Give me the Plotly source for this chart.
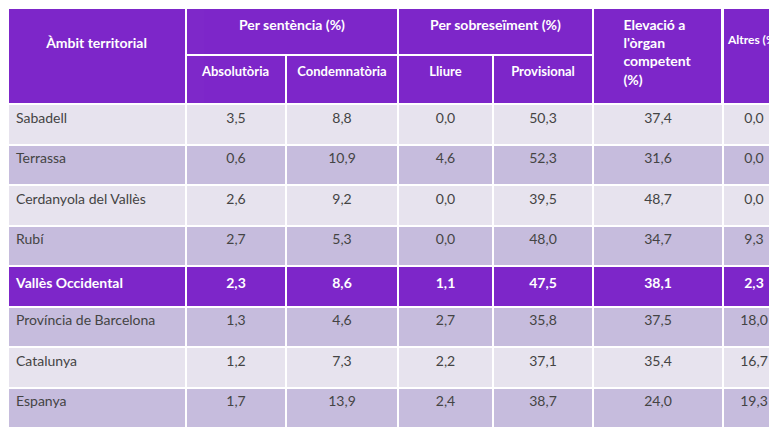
import plotly.graph_objects as go

ambits = ["Sabadell", "Terrassa", "Cerdanyola del Vallès", "Rubí", "Vallès Occidental",
          "Província de Barcelona", "Catalunya", "Espanya"]
absolutoria = ["3,5", "0,6", "2,6", "2,7", "2,3", "1,3", "1,2", "1,7"]
condemnatoria = ["8,8", "10,9", "9,2", "5,3", "8,6", "4,6", "7,3", "13,9"]
lliure = ["0,0", "4,6", "0,0", "0,0", "1,1", "2,7", "2,2", "2,4"]
provisional = ["50,3", "52,3", "39,5", "48,0", "47,5", "35,8", "37,1", "38,7"]
elevacio = ["37,4", "31,6", "48,7", "34,7", "38,1", "37,5", "35,4", "24,0"]
altres = ["0,0", "0,0", "0,0", "9,3", "2,3", "18,0", "16,7", "19,3"]
highlight = "Vallès Occidental"

PURPLE = "#7D26C9"
LIGHT = "#E7E3EE"
DARK = "#C6BCDD"
W, H = 777, 427
widths = [178, 100, 112, 95, 100, 130, 62]
FONT = "Lato, Open Sans, sans-serif"

fills, colors, names = [], [], []
for i, a in enumerate(ambits):
    if a == highlight:
        fills.append(PURPLE); colors.append("white"); names.append("<b>%s</b>" % a)
    else:
        fills.append(LIGHT if i % 2 == 0 else DARK); colors.append("#444444"); names.append(a)

def bold(v, a):
    return ["<b>%s</b>" % x if n == highlight else x for x, n in zip(v, a)]

cols = [names] + [bold(c, ambits) for c in [absolutoria, condemnatoria, lliure, provisional, elevacio, altres]]

top_h, head_h = 47, 96
row_h = 40.5

fig = go.Figure()
fig.add_trace(go.Table(
    domain=dict(x=[0, 1], y=[0, 1 - top_h / H]),
    columnwidth=widths,
    header=dict(values=["", "<b>Absolutòria</b>", "<b>Condemnatòria</b>", "<b>Lliure</b>",
                        "<b>Provisional</b>", "", ""],
                fill_color=PURPLE, line=dict(color="white", width=2), height=head_h - top_h,
                font=dict(color="white", size=13, family=FONT), align="center"),
    cells=dict(values=cols, fill_color=[fills] * 7, line=dict(color="white", width=2),
               font=dict(color=[colors] * 7, size=14, family=FONT), height=row_h,
               align=["left"] + ["center"] * 6)))

fig.add_trace(go.Table(
    domain=dict(x=[178 / W, 585 / W], y=[1 - top_h / H, 1]),
    columnwidth=[212, 195],
    header=dict(values=["<b>Per sentència (%)</b>", "<b>Per sobreseïment (%)</b>"],
                fill_color=PURPLE, line=dict(color="white", width=2), height=top_h,
                font=dict(color="white", size=14, family=FONT), align="center"),
    cells=dict(values=[[], []])))

for label, x0, x1, pad, size in [("<b>Àmbit territorial</b>", 0, 178, "&nbsp;<br>", 14),
                                 ("<b>Elevació a<br>l'òrgan<br>competent<br>(%)</b>", 585, 715, "", 14),
                                 ("<b>Altres (%)</b>", 715, W, "&nbsp;<br>", 12)]:
    fig.add_trace(go.Table(
        domain=dict(x=[x0 / W, x1 / W], y=[1 - head_h / H, 1]),
        header=dict(values=[pad + label], fill_color=PURPLE, line=dict(color="white", width=2),
                    height=head_h, font=dict(color="white", size=size, family=FONT), align="center"),
        cells=dict(values=[[]])))

fig.update_layout(width=W, height=H, margin=dict(l=0, r=0, t=0, b=0), paper_bgcolor="white")
fig.write_html("out.html")
